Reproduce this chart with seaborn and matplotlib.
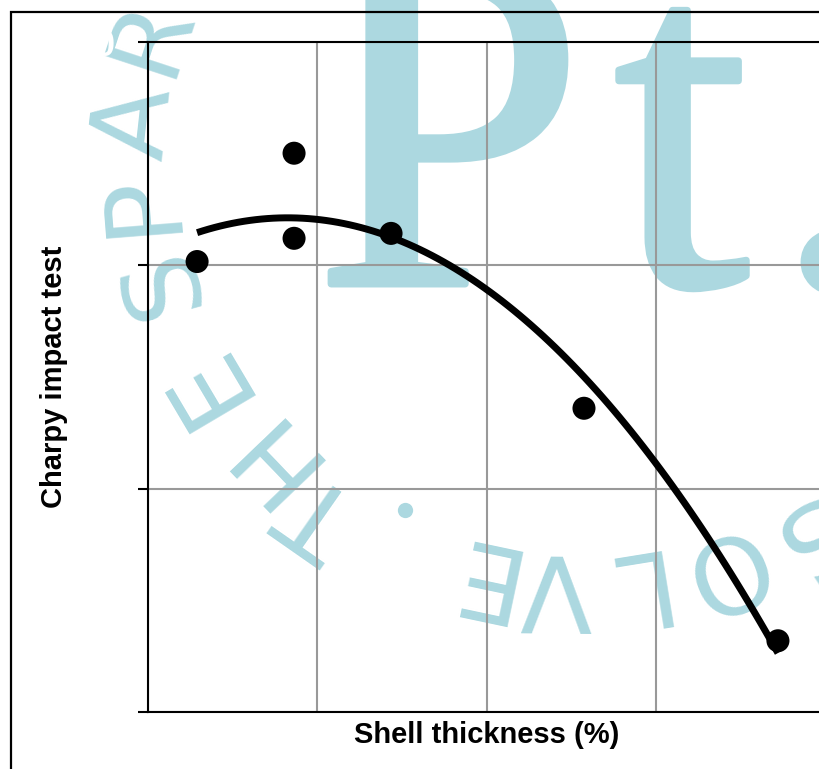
import numpy as np
import matplotlib
matplotlib.use("Agg")
import matplotlib.pyplot as plt
import matplotlib.patches as mpatches
import matplotlib.patheffects as pe
from matplotlib.lines import Line2D
import seaborn as sns

# ---- data ----
thickness = [0.29, 0.863, 0.863, 1.436, 2.576, 3.722]
charpy = [20.17, 25.02, 21.21, 21.43, 13.60, 3.19]
x_ticks = [0, 1, 2, 3, 4]
y_ticks = [0, 10, 20, 30]
x_label = "Shell thickness (%)"
y_label = "Charpy impact test"

# watermark (decorative)
wm_letters = ["S", "O", "L", "V", "E", "T", "H", "E", "S", "P", "A", "R"]
wm_cx = [800, 718, 627, 556, 475, 322, 268, 205, 162, 142, 137, 150]
wm_cy = [536, 567, 582, 584, 571, 511, 450, 380, 280, 203, 123, 35]

W, H = 819, 769
sns.set_style("white")
plt.rcParams["font.family"] = ["Liberation Sans", "DejaVu Sans"]

fig = plt.figure(figsize=(W / 100, H / 100), dpi=100)
fig.patch.set_facecolor("white")

def fx(px):
    return px / W

def fy(py):
    return 1 - py / H

wm_color = "#acd8e0"
thick = [pe.withStroke(linewidth=5, foreground=wm_color)]
# big serif letters
for ch, px in [("P", 314), ("t", 614), (".", 772)]:
    fig.text(fx(px), fy(284), ch, fontsize=350, family="Liberation Serif",
             color=wm_color, ha="left", va="baseline", zorder=-5,
             path_effects=thick)
# circular text
cx0, cy0 = 560, 170
for ch, px, py in zip(wm_letters, wm_cx, wm_cy):
    th = np.degrees(np.arctan2(py - cy0, px - cx0))
    fig.text(fx(px), fy(py), ch, fontsize=76, family="DejaVu Sans",
             color=wm_color, ha="center", va="center",
             rotation=-th - 90, rotation_mode="anchor", zorder=-5)
fig.add_artist(Line2D([fx(405)], [fy(510)], marker="o", ms=11, color=wm_color,
                      mec="none", transform=fig.transFigure, zorder=-5))

# outer frame
fig.add_artist(mpatches.Rectangle((fx(11), -0.05), 1.2, fy(12) + 0.05,
                                  transform=fig.transFigure, fill=False,
                                  ec="black", lw=1.6, zorder=2))

ax = fig.add_axes([fx(148), fy(712), (825 - 148) / W, (712 - 42) / H])
ax.set_facecolor("none")

sns.regplot(x=thickness, y=charpy, order=2, ci=None, ax=ax,
            scatter_kws=dict(s=275, color="black", edgecolors="none", zorder=4, alpha=1),
            line_kws=dict(color="black", lw=5, solid_capstyle="butt", zorder=3))

ax.set_xlim(x_ticks[0], x_ticks[-1])
ax.set_ylim(y_ticks[0], y_ticks[-1])
ax.set_xticks(x_ticks)
ax.set_yticks(y_ticks)
ax.grid(True, color="#999999", lw=1.5)
ax.set_axisbelow(True)
for s in ax.spines.values():
    s.set_visible(True)
    s.set_color("black")
    s.set_linewidth(1.5)

ax.tick_params(axis="y", direction="out", length=7.2, width=1.5, color="black",
               labelcolor="white", labelsize=26, pad=16.5, left=True)
for lab in ax.get_yticklabels():
    lab.set_fontweight("bold")
ax.tick_params(axis="x", length=0, labelbottom=False)

ax.set_xlabel(x_label, fontsize=21, fontweight="bold", color="black")
ax.set_ylabel(y_label, fontsize=21, fontweight="bold", color="black")
ax.xaxis.set_label_coords(0.5, -0.0134)
ax.yaxis.set_label_coords(-0.118, 0.5)

fig.savefig("out.png", dpi=100)
